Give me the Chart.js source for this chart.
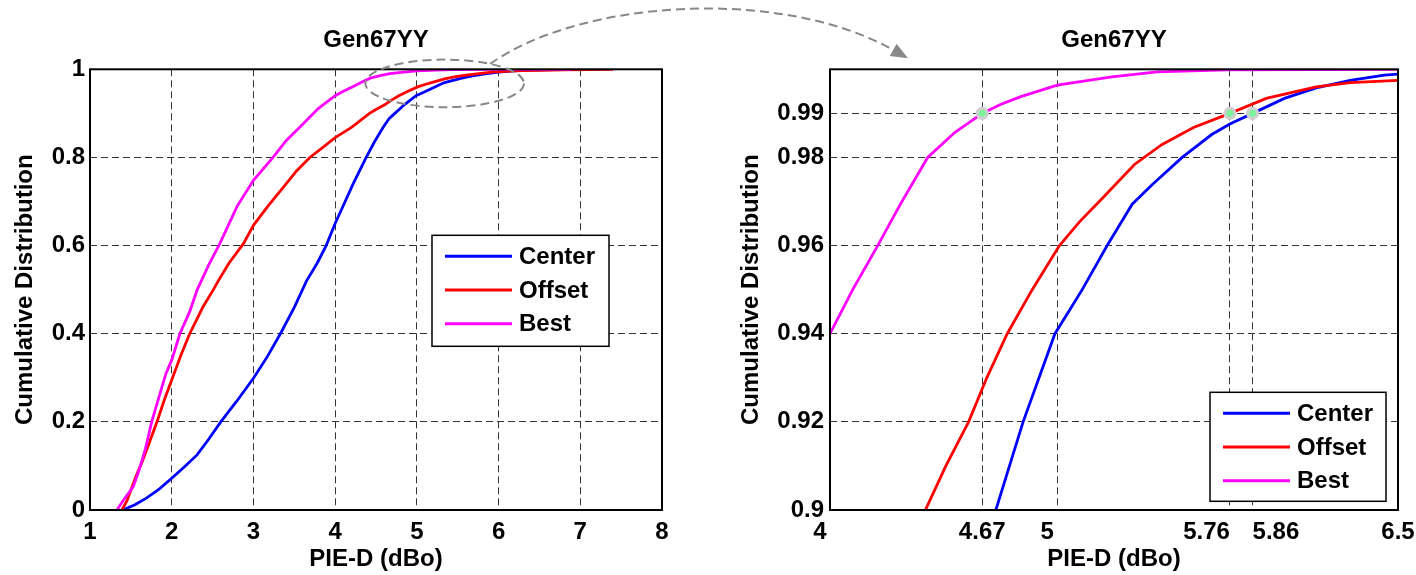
<!DOCTYPE html>
<html>
<head>
<meta charset="utf-8">
<script src="https://cdn.jsdelivr.net/npm/chart.js@4.4.1/dist/chart.umd.min.js"></script>
<style>
  html, body { margin: 0; padding: 0; background: #fff; overflow: hidden; }
  #wrap { position: relative; width: 1416px; height: 575px; }
  canvas { position: absolute; top: 0; }
</style>
</head>
<body>
<div id="wrap">
  <canvas id="left" width="700" height="575" style="left:0"></canvas>
  <canvas id="right" width="716" height="575" style="left:700px"></canvas>
  <canvas id="overlay" width="1416" height="575" style="left:0;pointer-events:none"></canvas>
</div>
<script>
// CDF curves (x = PIE-D in dBo, y = cumulative distribution)
const centerX = [1.40, 1.55, 1.69, 1.85, 2.00, 2.15, 2.31, 2.45, 2.60, 2.80, 3.00, 3.17, 3.33, 3.50, 3.65, 3.78, 3.89, 4.00, 4.11, 4.22, 4.30, 4.38, 4.48, 4.59, 4.66, 4.73, 4.79, 4.85, 4.92, 4.99, 5.05, 5.11, 5.22, 5.33, 5.42, 5.55, 5.68, 5.76, 5.86, 6.00, 6.14, 6.29, 6.44, 6.50, 6.70, 6.95];
const centerY = [0, 0.012, 0.027, 0.048, 0.072, 0.097, 0.125, 0.160, 0.200, 0.248, 0.299, 0.348, 0.400, 0.460, 0.520, 0.560, 0.600, 0.650, 0.695, 0.740, 0.770, 0.800, 0.835, 0.869, 0.888, 0.900, 0.910, 0.920, 0.930, 0.940, 0.945, 0.950, 0.960, 0.9694, 0.9739, 0.980, 0.9852, 0.9876, 0.990, 0.9934, 0.9958, 0.9975, 0.9987, 0.9989, 0.9996, 1.0];

const offsetX = [1.39, 1.45, 1.51, 1.57, 1.64, 1.73, 1.82, 1.91, 2.00, 2.11, 2.22, 2.38, 2.51, 2.57, 2.70, 2.88, 3.00, 3.18, 3.37, 3.53, 3.69, 3.85, 4.00, 4.20, 4.42, 4.51, 4.61, 4.69, 4.78, 4.89, 5.01, 5.10, 5.20, 5.34, 5.46, 5.60, 5.76, 5.92, 6.14, 6.29, 6.50, 6.80, 7.10, 7.40];
const offsetY = [0, 0.020, 0.050, 0.080, 0.110, 0.155, 0.200, 0.250, 0.295, 0.350, 0.400, 0.460, 0.500, 0.520, 0.560, 0.605, 0.646, 0.690, 0.733, 0.770, 0.800, 0.823, 0.845, 0.868, 0.900, 0.910, 0.920, 0.930, 0.940, 0.950, 0.960, 0.9655, 0.9708, 0.9784, 0.9829, 0.9868, 0.990, 0.9934, 0.996, 0.997, 0.9975, 0.9988, 0.9995, 1.0];

const bestX = [1.33, 1.40, 1.53, 1.60, 1.68, 1.755, 1.85, 1.93, 2.00, 2.10, 2.22, 2.31, 2.45, 2.59, 2.80, 3.00, 3.24, 3.40, 3.57, 3.80, 4.00, 4.10, 4.21, 4.31, 4.43, 4.55, 4.67, 4.75, 4.84, 5.00, 5.24, 5.44, 5.75, 6.90];
const bestY = [0, 0.020, 0.053, 0.090, 0.140, 0.200, 0.260, 0.310, 0.340, 0.400, 0.450, 0.499, 0.555, 0.605, 0.689, 0.748, 0.800, 0.838, 0.869, 0.912, 0.940, 0.950, 0.960, 0.9694, 0.980, 0.9857, 0.990, 0.992, 0.9938, 0.9964, 0.9983, 0.9994, 0.9999, 1.0];

const seriesLabels = ["Center", "Offset", "Best"];
const seriesColors = ["#0000ff", "#ff0000", "#ff00ff"];

// 99th-percentile markers on the zoomed panel
const markerX = [4.67, 5.76, 5.86];
const markerLevel = 0.99;

// ticks
const leftXTicks = [1, 2, 3, 4, 5, 6, 7, 8];
const leftYTicks = [0, 0.2, 0.4, 0.6, 0.8, 1];
const rightXTicks = [4, 4.67, 5, 5.76, 5.86, 6.5];
const rightXLabels = ["4   ", "4.67", "5   ", "5.76       ", "       5.86", "6.5"];
const rightYTicks = [0.9, 0.92, 0.94, 0.96, 0.98, 0.99];

// zoom ellipse on the left panel (data units)
const zoomBox = { x: 5.34, y: 0.968, rx: 0.97, ry: 0.054 };

const FONT = "'Liberation Sans', Arial, Helvetica, sans-serif";
Chart.defaults.font.family = FONT;
Chart.defaults.font.size = 24;
Chart.defaults.font.weight = "bold";
Chart.defaults.color = "#000";

function pts(xs, ys) {
  return xs.map((x, i) => ({ x: x, y: ys[i] }));
}

function curves() {
  const xs = [centerX, offsetX, bestX];
  const ys = [centerY, offsetY, bestY];
  return seriesLabels.map((label, i) => ({
    label: label,
    data: pts(xs[i], ys[i]),
    showLine: true,
    borderColor: seriesColors[i],
    backgroundColor: seriesColors[i],
    borderWidth: 2.8,
    pointRadius: 0,
    tension: 0,
    order: 2 - i
  }));
}

function axes(o) {
  return {
    x: {
      type: "linear",
      min: o.xMin,
      max: o.xMax,
      afterBuildTicks: s => { s.ticks = o.xTicks.map(v => ({ value: v })); },
      // fixed axis height; label overflow is handled by the canvas margins
      afterFit: s => { s.height = 65; s.paddingLeft = 0; s.paddingRight = 0; },
      ticks: {
        autoSkip: false,
        maxRotation: 0,
        padding: 8,
        callback: (v, i) => (o.xLabels ? o.xLabels[i] : String(v))
      },
      grid: { color: "#333", lineWidth: 1, drawTicks: false },
      border: { display: false, dash: [7, 4] },
      title: { display: true, text: "PIE-D (dBo)", padding: { top: 0, bottom: 1 } }
    },
    y: {
      type: "linear",
      min: o.yMin,
      max: o.yMax,
      afterBuildTicks: s => { s.ticks = o.yTicks.map(v => ({ value: v })); },
      afterFit: s => { s.width = o.yWidth; },
      ticks: { autoSkip: false, padding: o.yPad, callback: v => String(v) },
      grid: { color: "#333", lineWidth: 1, drawTicks: false },
      border: { display: false, dash: [7, 4] },
      title: { display: true, text: "Cumulative Distribution", padding: { top: o.yTitlePad, bottom: 0 } }
    }
  };
}

// black box around the plot area, plus optional zoom ellipse
const frame = {
  id: "frame",
  afterDatasetsDraw(chart, args, opts) {
    const { ctx, chartArea: a } = chart;
    ctx.save();
    ctx.strokeStyle = "#000";
    ctx.lineWidth = 2;
    ctx.strokeRect(a.left, a.top, a.right - a.left, a.bottom - a.top);
    if (opts.ellipse) {
      const e = opts.ellipse, sx = chart.scales.x, sy = chart.scales.y;
      const cx = sx.getPixelForValue(e.x), cy = sy.getPixelForValue(e.y);
      const rx = sx.getPixelForValue(e.x + e.rx) - cx;
      const ry = cy - sy.getPixelForValue(e.y + e.ry);
      ctx.strokeStyle = "#888";
      ctx.lineWidth = 2;
      ctx.setLineDash([9, 5]);
      ctx.beginPath();
      ctx.ellipse(cx, cy, rx, ry, 0, 0, Math.PI * 2);
      ctx.stroke();
    }
    ctx.restore();
  }
};

// MATLAB-style boxed legend inside the axes
const boxLegend = {
  id: "boxLegend",
  afterDraw(chart, args, opts) {
    const { ctx, chartArea: a } = chart;
    const x0 = a.right - opts.right - opts.width;
    const y0 = a.top + opts.top;
    ctx.save();
    ctx.fillStyle = "#fff";
    ctx.fillRect(x0, y0, opts.width, opts.height);
    ctx.strokeStyle = "#000";
    ctx.lineWidth = 1.5;
    ctx.strokeRect(x0, y0, opts.width, opts.height);
    ctx.font = "bold 24px " + FONT;
    ctx.textBaseline = "middle";
    ctx.textAlign = "left";
    seriesLabels.forEach((label, i) => {
      const y = y0 + 21 + i * 33.7;
      ctx.strokeStyle = seriesColors[i];
      ctx.lineWidth = 3;
      ctx.beginPath();
      ctx.moveTo(x0 + 13, y);
      ctx.lineTo(x0 + 80, y);
      ctx.stroke();
      ctx.fillStyle = "#000";
      ctx.fillText(label, x0 + 87, y + 1);
    });
    ctx.restore();
  }
};

function titleOpts() {
  return {
    display: true,
    text: "Gen67YY",
    fullSize: false,
    padding: { top: 26, bottom: 14.5 },
    font: { size: 24, weight: "bold" }
  };
}

const leftChart = new Chart(document.getElementById("left"), {
  type: "scatter",
  data: { datasets: curves() },
  options: {
    responsive: false,
    animation: false,
    layout: { padding: { left: 0, right: 38, top: 0, bottom: 0 } },
    scales: axes({ xMin: 1, xMax: 8, xTicks: leftXTicks, yMin: 0, yMax: 1, yTicks: leftYTicks, yWidth: 90, yPad: 5, yTitlePad: 11 }),
    plugins: {
      legend: { display: false },
      tooltip: { enabled: false },
      title: titleOpts(),
      frame: { ellipse: zoomBox },
      boxLegend: { right: 53, top: 166, width: 177, height: 111 }
    }
  },
  plugins: [frame, boxLegend]
});

const rightSets = curves();
rightSets.push({
  label: "99%",
  data: markerX.map(x => ({ x: x, y: markerLevel })),
  showLine: false,
  pointRadius: 5,
  pointBorderWidth: 3,
  pointBackgroundColor: "#7ef29a",
  pointBorderColor: "#cfcfcf",
  order: -1
});

const rightChart = new Chart(document.getElementById("right"), {
  type: "scatter",
  data: { datasets: rightSets },
  options: {
    responsive: false,
    animation: false,
    layout: { padding: { left: 0, right: 18, top: 0, bottom: 0 } },
    scales: axes({ xMin: 4, xMax: 6.5, xTicks: rightXTicks, xLabels: rightXLabels, yMin: 0.9, yMax: 1.0, yTicks: rightYTicks, yWidth: 130, yPad: 6, yTitlePad: 37 }),
    plugins: {
      legend: { display: false },
      tooltip: { enabled: false },
      title: titleOpts(),
      frame: {},
      boxLegend: { right: 12, top: 323, width: 176, height: 109 }
    }
  },
  plugins: [frame, boxLegend]
});

// dashed arrow from the zoom ellipse to the zoomed panel
(function drawArrow() {
  const ctx = document.getElementById("overlay").getContext("2d");
  const sx = leftChart.scales.x, sy = leftChart.scales.y;
  const cx = sx.getPixelForValue(zoomBox.x), cy = sy.getPixelForValue(zoomBox.y);
  const rx = sx.getPixelForValue(zoomBox.x + zoomBox.rx) - cx;
  const ry = cy - sy.getPixelForValue(zoomBox.y + zoomBox.ry);
  const t = 55 * Math.PI / 180;
  const p0 = { x: cx + rx * Math.cos(t), y: cy - ry * Math.sin(t) };
  const ra = rightChart.chartArea;
  const offX = 700;
  const tip = { x: offX + ra.left + 78, y: ra.top - 11 };
  const p1 = { x: p0.x + 90, y: p0.y - 64 };
  const p2 = { x: tip.x - 128, y: tip.y - 72 };
  const ang = Math.atan2(tip.y - p2.y, tip.x - p2.x);
  const len = 17, half = 7;
  const base = { x: tip.x - len * Math.cos(ang), y: tip.y - len * Math.sin(ang) };

  ctx.save();
  ctx.strokeStyle = "#888";
  ctx.fillStyle = "#888";
  ctx.lineWidth = 2;
  ctx.setLineDash([9, 5]);
  ctx.beginPath();
  ctx.moveTo(p0.x, p0.y);
  ctx.bezierCurveTo(p1.x, p1.y, p2.x, p2.y, base.x, base.y);
  ctx.stroke();
  ctx.setLineDash([]);
  ctx.beginPath();
  ctx.moveTo(tip.x, tip.y);
  ctx.lineTo(base.x + half * Math.sin(ang), base.y - half * Math.cos(ang));
  ctx.lineTo(base.x - half * Math.sin(ang), base.y + half * Math.cos(ang));
  ctx.closePath();
  ctx.fill();
  ctx.restore();
})();
</script>
</body>
</html>
